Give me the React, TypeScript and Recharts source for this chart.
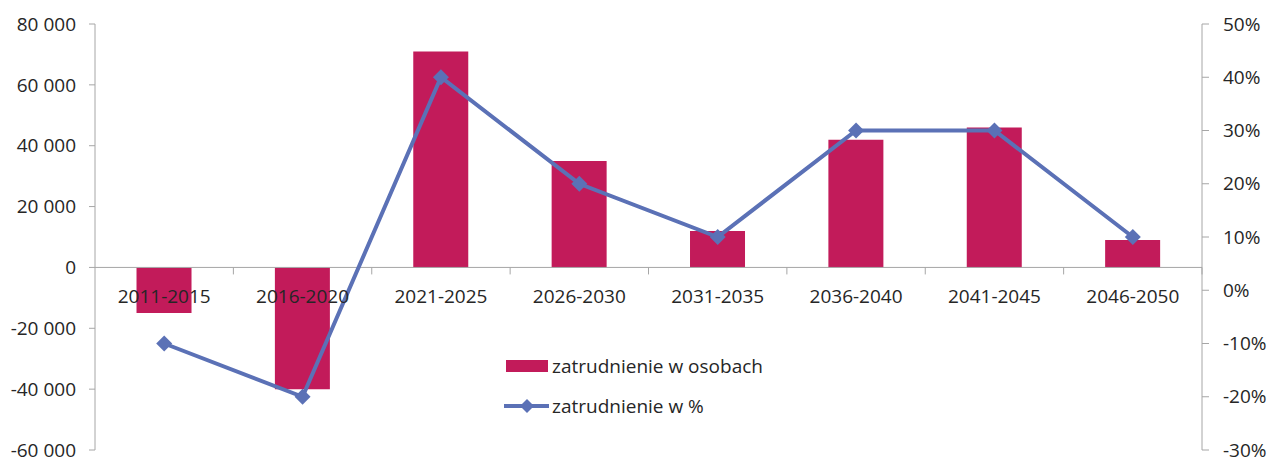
import { ComposedChart, Bar, Line, XAxis, YAxis, ReferenceLine } from 'recharts';

const categories = ['2011-2015', '2016-2020', '2021-2025', '2026-2030', '2031-2035', '2036-2040', '2041-2045', '2046-2050'];
const employedPersons = [-15000, -40000, 71000, 35000, 12000, 42000, 46000, 9000];
const employedPercent = [-0.1, -0.2, 0.4, 0.2, 0.1, 0.3, 0.3, 0.1];
const leftTicks = [-60000, -40000, -20000, 0, 20000, 40000, 60000, 80000];
const rightTicks = [-0.3, -0.2, -0.1, 0, 0.1, 0.2, 0.3, 0.4, 0.5];
const seriesNames = ['zatrudnienie w osobach', 'zatrudnienie w %'];

const BAR = '#C21B5A';
const LINE = '#5B71B6';
const AXIS = '#A6A6A6';
const TEXT = '#262626';
const FONT = '"Open Sans", sans-serif';

const W = 1270;
const H = 459;
const M = { top: 24, right: 0, left: 0, bottom: 8 };
const X_H = 1;
const LEFT_W = 95;
const RIGHT_W = 68;
const PLOT_H = H - M.top - M.bottom - X_H;
const ZERO_Y = M.top + PLOT_H * (80000 / 140000);
const BAND = (W - LEFT_W - RIGHT_W) / categories.length;

const data = categories.map((name, i) => ({
  name,
  persons: employedPersons[i],
  pct: employedPercent[i],
}));

const fmtThousands = (v: number) => {
  const s = Math.abs(v).toString().replace(/\B(?=(\d{3})+(?!\d))/g, ' ');
  return v < 0 ? `-${s}` : s;
};

const CategoryTick = ({ x, payload }: any) => (
  <g>
    <text x={x} y={ZERO_Y + 36} textAnchor="middle" fill={TEXT} fontSize={19} fontFamily={FONT}>
      {payload.value}
    </text>
    <line x1={x + BAND / 2} x2={x + BAND / 2} y1={ZERO_Y} y2={ZERO_Y + 7} stroke={AXIS} />
  </g>
);

const Diamond = ({ cx, cy }: any) => {
  if (cx == null || cy == null) return null;
  const r = 8;
  return <polygon points={`${cx},${cy - r} ${cx + r},${cy} ${cx},${cy + r} ${cx - r},${cy}`} fill={LINE} />;
};

const LegendBox = () => (
  <div style={{ position: 'absolute', left: 504, top: 346, fontFamily: FONT, fontSize: 19, color: TEXT }}>
    <div style={{ display: 'flex', alignItems: 'center', height: 40 }}>
      <svg width={48} height={14}>
        <rect x={2} y={1} width={42} height={12} fill={BAR} />
      </svg>
      <span>{seriesNames[0]}</span>
    </div>
    <div style={{ display: 'flex', alignItems: 'center', height: 40 }}>
      <svg width={48} height={18}>
        <line x1={0} x2={45} y1={9} y2={9} stroke={LINE} strokeWidth={4} />
        <polygon points="23,2 30,9 23,16 16,9" fill={LINE} />
      </svg>
      <span>{seriesNames[1]}</span>
    </div>
  </div>
);

export default function App() {
  return (
    <div style={{ position: 'absolute', left: 0, top: 0, width: W, height: H, background: '#fff' }}>
      <ComposedChart width={W} height={H} data={data} margin={M} barCategoryGap="30%">
        <XAxis
          dataKey="name"
          height={X_H}
          axisLine={false}
          tickLine={false}
          interval={0}
          tick={<CategoryTick />}
        />
        <YAxis
          yAxisId="left"
          width={LEFT_W}
          domain={[-60000, 80000]}
          ticks={leftTicks}
          interval={0}
          tickFormatter={fmtThousands}
          stroke={AXIS}
          tickSize={6}
          tickMargin={13}
          tick={{ fill: TEXT, fontSize: 19, fontFamily: FONT }}
          allowDataOverflow
        />
        <YAxis
          yAxisId="right"
          orientation="right"
          width={RIGHT_W}
          domain={[-0.3, 0.5]}
          ticks={rightTicks}
          interval={0}
          tickFormatter={(v: number) => `${Math.round(v * 100)}%`}
          stroke={AXIS}
          tickSize={7}
          tickMargin={14}
          tick={{ fill: TEXT, fontSize: 19, fontFamily: FONT, textAnchor: 'start' }}
          allowDataOverflow
        />
        <ReferenceLine yAxisId="left" y={0} stroke={AXIS} strokeWidth={1} />
        <Bar yAxisId="left" dataKey="persons" name={seriesNames[0]} fill={BAR} isAnimationActive={false} />
        <Line
          yAxisId="right"
          dataKey="pct"
          name={seriesNames[1]}
          stroke={LINE}
          strokeWidth={4}
          dot={<Diamond />}
          activeDot={false}
          isAnimationActive={false}
        />
      </ComposedChart>
      <LegendBox />
    </div>
  );
}
